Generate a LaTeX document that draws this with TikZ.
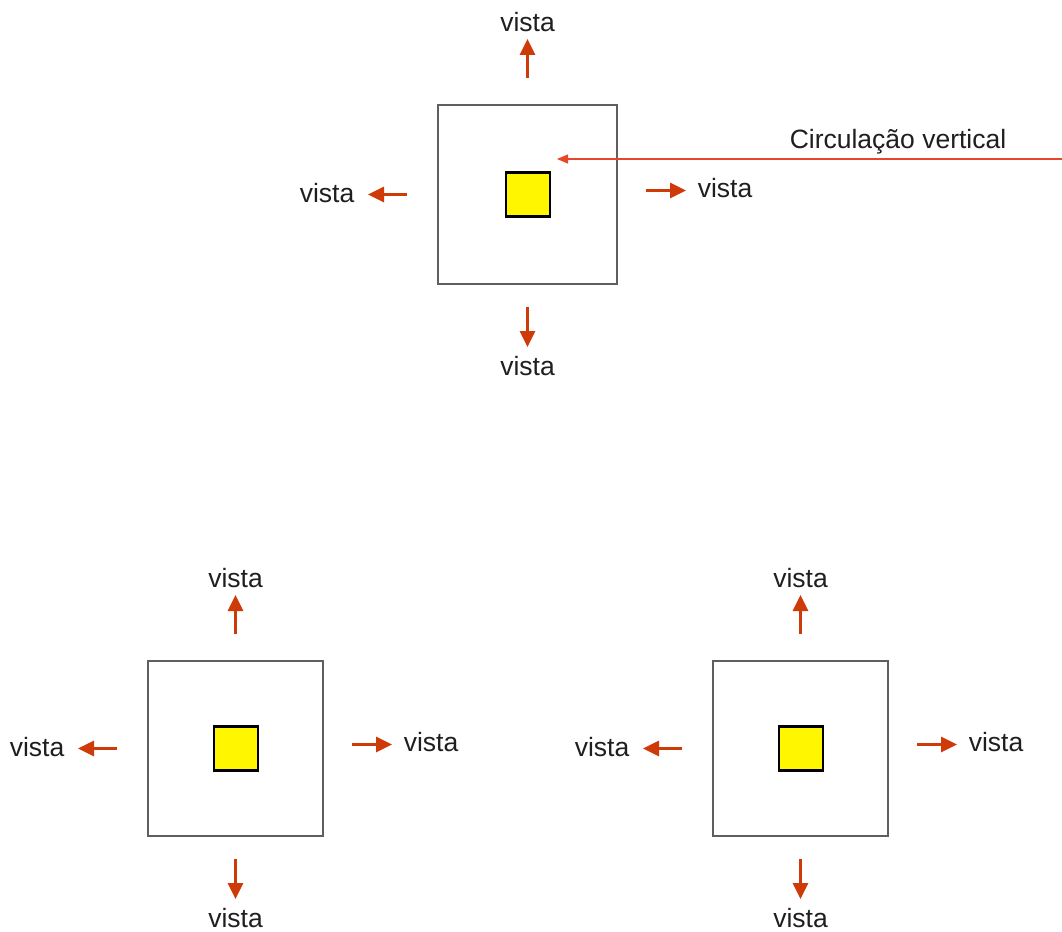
\documentclass[tikz,border=0pt]{standalone}
\usepackage{fontspec}
\setmainfont{Liberation Sans}
\usetikzlibrary{arrows.meta}
\definecolor{vred}{RGB}{206,58,8}
\definecolor{cline}{RGB}{228,72,40}
\definecolor{boxgray}{RGB}{95,95,95}
\definecolor{coreyellow}{RGB}{255,246,0}
\tikzset{
  outerbox/.style={draw=boxgray, line width=1.6pt, minimum size=#1, inner sep=0pt},
  corebox/.style={draw=black, fill=coreyellow, line width=2.2pt, minimum size=44pt, inner sep=0pt},
  viewarrow/.style={draw=vred, line width=3pt, -{Triangle[length=16pt,width=15pt]}},
  pointer/.style={draw=cline, line width=1.2pt, -{Triangle[length=11pt,width=9pt]}},
  lbl/.style={font=\fontsize{26.5}{30}\selectfont, inner sep=0pt, text=black!88},
}
% #1 prefix, #2 cx, #3 cy, #4 full box size
\newcommand{\vistaunit}[4]{%
  \node[outerbox=#4pt] (#1box) at (#2,#3) {};
  \node[corebox] (#1core) at (#2+0.5,#3) {};
  % up
  \coordinate (#1ua) at (#2,#3-#4/2-27);
  \coordinate (#1ub) at (#2,#3-#4/2-66);
  \node[lbl] (#1ul) at (#2,#3-#4/2-83) {vista};
  % left
  \coordinate (#1la) at (#2-#4/2-31,#3);
  \coordinate (#1lb) at (#2-#4/2-70,#3);
  \node[lbl] (#1ll) at (#2-#4/2-111,#3-1.5) {vista};
  % right
  \coordinate (#1ra) at (#2+#4/2+29,#3-4);
  \coordinate (#1rb) at (#2+#4/2+69,#3-4);
  \node[lbl] (#1rl) at (#2+#4/2+108,#3-6) {vista};
  % down
  \coordinate (#1da) at (#2,#3+#4/2+23);
  \coordinate (#1db) at (#2,#3+#4/2+63);
  \node[lbl] (#1dl) at (#2,#3+#4/2+82) {vista};
  \draw[viewarrow] (#1ua) -- (#1ub);
  \draw[viewarrow] (#1la) -- (#1lb);
  \draw[viewarrow] (#1ra) -- (#1rb);
  \draw[viewarrow] (#1da) -- (#1db);
}
\begin{document}
\begin{tikzpicture}[x=1pt,y=-1pt]
  \useasboundingbox[fill=white] (0,0) rectangle (1062,931);
  \vistaunit{t}{527.5}{194.5}{179}
  \vistaunit{a}{235.5}{748.5}{175}
  \vistaunit{b}{800.5}{748.5}{175}
  \coordinate (cstart) at (1062,159);
  \coordinate (cend) at (557,159);
  \draw[pointer] (cstart) -- (cend);
  \node[lbl] (ctext) at (898,142) {Circulação vertical};
\end{tikzpicture}
\end{document}
